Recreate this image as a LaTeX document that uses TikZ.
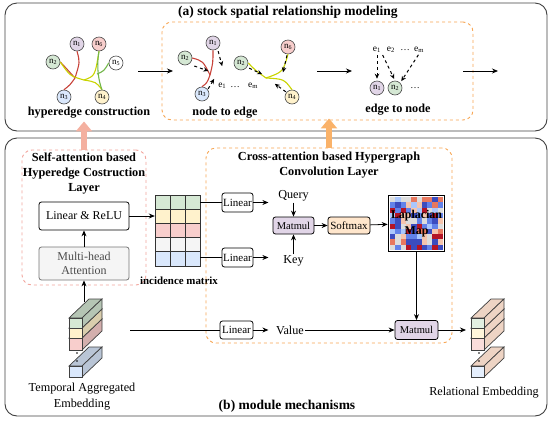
\documentclass[tikz,border=0pt]{standalone}
\usepackage{fontspec}
\setmainfont{Liberation Serif}
\usetikzlibrary{positioning, arrows.meta}

\definecolor{cgreen}{HTML}{D5E8D4}
\definecolor{cyellow}{HTML}{FFF2CC}
\definecolor{cred}{HTML}{F8CECC}
\definecolor{cgray}{HTML}{F5F5F5}
\definecolor{cblue}{HTML}{DAE8FC}
\definecolor{cpurple}{HTML}{E1D5E7}
\definecolor{corange}{HTML}{FFE6CC}
\definecolor{peach}{RGB}{238,212,196}
\definecolor{dashorange}{HTML}{F7A552}
\definecolor{dashpink}{HTML}{F2A49C}
\definecolor{pinkarrow}{RGB}{244,176,160}
\definecolor{orangearrow}{RGB}{250,178,105}
\definecolor{linered}{HTML}{C8433A}
\definecolor{lineyellow}{HTML}{C9D400}
\definecolor{linegreen}{HTML}{72B64A}
% coolwarm colours of the Laplacian map
\definecolor{hm0}{RGB}{59,76,192}
\definecolor{hm1}{RGB}{98,130,234}
\definecolor{hm2}{RGB}{170,199,253}
\definecolor{hm3}{RGB}{221,221,221}
\definecolor{hm4}{RGB}{245,196,173}
\definecolor{hm5}{RGB}{232,120,95}
\definecolor{hm6}{RGB}{180,20,38}

% one embedding cube: x, y (front top left), height, front fill, side fill
\newcommand{\embcube}[5]{%
  \filldraw[draw=black!75, line width=0.7pt, fill=#5] (#1,#2) -- ++(20,-19) -- ++(13,0) -- ++(-20,19) -- cycle;
  \filldraw[draw=black!75, line width=0.7pt, fill=#5] (#1+13,#2) -- ++(20,-19) -- ++(0,#3) -- ++(-20,19) -- cycle;
  \filldraw[draw=black!75, line width=0.7pt, fill=#4] (#1,#2) rectangle ++(13,#3);
}

\begin{document}
\begin{tikzpicture}[x=1pt, y=-1pt,
  panel/.style={draw=black!75, line width=0.9pt, rounded corners=12pt, inner sep=0pt},
  layerbox/.style={dashed, line width=0.9pt, rounded corners=10pt, inner sep=0pt},
  heading/.style={font=\fontsize{12.3}{15}\selectfont\bfseries, align=center},
  bigtitle/.style={font=\fontsize{13.5}{15}\selectfont\bfseries},
  subcap/.style={font=\fontsize{12.2}{14}\selectfont\bfseries},
  txt/.style={font=\fontsize{12.2}{14}\selectfont, inner sep=1pt},
  elabel/.style={font=\fontsize{9.5}{10}\selectfont, inner sep=1pt},
  stock/.style={circle, draw=black!70, line width=0.6pt, minimum size=14pt, inner sep=0pt, font=\fontsize{9}{9}\selectfont},
  opbox/.style={draw, line width=0.8pt, rounded corners=2.5pt, inner sep=0pt, font=\fontsize{11}{12}\selectfont},
  arrow/.style={-{Stealth[length=6pt, width=5pt]}, line width=0.8pt},
  flow/.style={-{Stealth[length=5pt, width=4.5pt]}, dashed, line width=1pt},
  hedge/.style={line width=1.1pt},
  bigarrow/.style={line width=6.5pt, -{Triangle[length=10pt, width=16pt]}}
]
\useasboundingbox (0,0) rectangle (550,421);

% the two panels
\node[panel, minimum width=542pt, minimum height=128pt] (panela) at (276,67) {};
\node[panel, minimum width=542pt, minimum height=278pt] (panelb) at (276,277) {};
\node[bigtitle] (titlea) at (288,12) {(a) stock spatial relationship modeling};
\node[bigtitle] (titleb) at (287,406) {(b) module mechanisms};

% hyperedge construction
\node[stock, fill=cpurple] (h1) at (77,44) {n\textsubscript{1}};
\node[stock, fill=cred] (h6) at (99,44) {n\textsubscript{6}};
\node[stock, fill=white] (h5) at (116,63) {n\textsubscript{5}};
\node[stock, fill=cgreen] (h2) at (53,62) {n\textsubscript{2}};
\node[stock, fill=cblue] (h3) at (64,97) {n\textsubscript{3}};
\node[stock, fill=cyellow] (h4) at (102,97) {n\textsubscript{4}};
\coordinate (rj) at (75,78);
\coordinate (yj) at (84,80);
\coordinate (gj) at (97,74);
\draw[hedge, linered] (h1.south) .. controls (80,62) .. (rj) .. controls (70,85) .. (h3.north);
\draw[hedge, linered] (h2.east) .. controls (65,67) .. (rj);
\draw[hedge, lineyellow] (h2.east) .. controls (70,76) .. (yj);
\draw[hedge, lineyellow] (yj) .. controls (95,76) .. (h6.south);
\draw[hedge, lineyellow] (yj) .. controls (96,82) .. (h4.north);
\draw[hedge, linegreen] (h5.west) .. controls (104,71) .. (gj);
\draw[hedge, linegreen] (h6.south) .. controls (96,68) and (99,82) .. (h4.north);
\node[subcap] (hcap) at (89,113) {hyperedge construction};

\coordinate (a1s) at (138,71);
\coordinate (a1e) at (173,71);
\draw[arrow] (a1s) -- (a1e);

% node to edge / edge to node
\node[layerbox, draw=dashorange, minimum width=311pt, minimum height=98pt] (mpbox) at (317.5,71) {};

\node[stock, fill=cpurple] (p1) at (213,43) {n\textsubscript{1}};
\node[stock, fill=cgreen] (p2) at (185,58) {n\textsubscript{2}};
\node[stock, fill=cblue] (p3) at (202,94) {n\textsubscript{3}};
\coordinate (pj) at (210,75);
\draw[hedge, linered] (p1.south) .. controls (213,63) .. (pj) .. controls (207,83) .. (p3.north);
\draw[hedge, linered] (p2.east) .. controls (203,61) .. (pj);
\draw[flow] ([shift={(0,3)}]p1.south east) -- ++(4,15);
\draw[flow] ([shift={(2,8)}]p2.east) -- ++(14,5);
\draw[flow] ([shift={(1,0)}]p3.north east) -- ++(6,-10);
\node[elabel] (pe1) at (229,86) {e\textsubscript{1} \,\dots};
\node[elabel] (pem) at (253,86) {e\textsubscript{m}};

\node[stock, fill=cgreen] (q2) at (241,63) {n\textsubscript{2}};
\node[stock, fill=cred] (q6) at (288,47) {n\textsubscript{6}};
\node[stock, fill=cyellow] (q4) at (292,97) {n\textsubscript{4}};
\coordinate (qj) at (266,78);
\draw[hedge, lineyellow] (q2.east) .. controls (255,70) .. (qj);
\draw[hedge, lineyellow] (q6.south) .. controls (283,72) .. (qj);
\draw[hedge, lineyellow] (qj) .. controls (284,79) .. (q4.north);
\draw[flow] ([shift={(3,0)}]q2.south east) -- ++(13,6);
\draw[flow] ([shift={(-1,1)}]q6.south) -- ++(-4,17);
\draw[flow] ([shift={(-1,0)}]q4.north west) -- ++(-11,-8);
\node[subcap] (ncap) at (225,113) {node to edge};

\coordinate (a2s) at (317,71);
\coordinate (a2e) at (352,71);
\draw[arrow] (a2s) -- (a2e);

\node[elabel] (f1) at (377,50) {e\textsubscript{1}};
\node[elabel] (f2) at (391,50) {e\textsubscript{2}};
\node[elabel] (fdots) at (405,50) {\dots};
\node[elabel] (fm) at (419,50) {e\textsubscript{m}};
\node[stock, fill=cpurple] (g1) at (377,88) {n\textsubscript{1}};
\node[stock, fill=cgreen] (g2) at (395,88) {n\textsubscript{2}};
\node[elabel] (gdots) at (415,88) {\dots};
\draw[flow, shorten <=1pt, shorten >=2pt] (f1.south) -- (g1.north);
\draw[flow, shorten <=1pt, shorten >=2pt] (f1.south east) -- (g2.north);
\draw[flow, shorten <=1pt, shorten >=2pt] (fm.south) -- (g2.north east);
\node[subcap] (ecap) at (398,110) {edge to node};

\coordinate (a3s) at (463,71);
\coordinate (a3e) at (498,71);
\draw[arrow] (a3s) -- (a3e);

% self-attention hyperedge layer
\node[layerbox, draw=dashpink, minimum width=124pt, minimum height=135pt] (salayer) at (84,217.5) {};
\node[heading] (satitle) at (84,173) {Self-attention based\\Hyperedge Costruction\\Layer};
\node[opbox, minimum width=90pt, minimum height=28pt, font=\fontsize{12}{13}\selectfont] (relu) at (84,216) {Linear \& ReLU};
\node[opbox, draw=black!55, fill=cgray, text=black!70, minimum width=90pt, minimum height=33pt, align=center, font=\fontsize{12}{14}\selectfont] (mha) at (84,263.5) {Multi-head\\Attention};
\draw[arrow] (mha) -- (relu);

% incidence matrix
\foreach \c [count=\row from 0] in {cgreen,cyellow,cred,cgray,cblue}
  \foreach \k in {0,1,2}
    \filldraw[fill=\c, draw=black!80, line width=0.7pt] (155+\k*15, 195+\row*14.2) rectangle ++(15,14.2);
\node[inner sep=0pt, minimum width=45pt, minimum height=71pt] (inc) at (177.5,230.5) {};
\node[font=\fontsize{10.9}{12}\selectfont\bfseries] (inccap) at (179,281) {incidence matrix};
\draw[arrow] (relu.east) -- (relu.east -| inc.west);

% cross-attention hypergraph convolution layer
\node[layerbox, draw=dashorange, minimum width=246pt, minimum height=195pt] (calayer) at (329,245.5) {};
\node[heading] (catitle) at (329,165.5) {Cross-attention based Hypergraph\\Convolution Layer};

\node[opbox, minimum width=31pt, minimum height=19pt] (lin1) at (237.5,202.5) {Linear};
\node[opbox, minimum width=31pt, minimum height=19pt] (lin2) at (237.5,257.5) {Linear};
\draw[line width=0.8pt] (inc.east |- lin1.west) -- (lin1.west);
\draw[line width=0.8pt] (inc.east |- lin2.west) -- (lin2.west);
\coordinate[right=15pt of lin1.east] (qin);
\coordinate[right=15pt of lin2.east] (kin);
\draw[arrow] (lin1.east) -- (qin);
\draw[arrow] (lin2.east) -- (kin);

\node[txt] (query) at (293.5,196) {Query};
\node[txt] (key) at (293.5,261) {Key};
\node[opbox, fill=cpurple, minimum width=41pt, minimum height=17pt, font=\fontsize{10.5}{12}\selectfont] (mm1) at (293.5,225.5) {Matmul};
\node[opbox, fill=corange, minimum width=42pt, minimum height=17pt] (soft) at (349,225.5) {Softmax};
\draw[arrow] (query) -- (mm1);
\draw[arrow] (key) -- (mm1);
\draw[arrow] (mm1) -- (soft);

% Laplacian map
\pgfmathsetseed{11}
\foreach \i in {0,...,9}
  \foreach \j in {0,...,9} {
    \pgfmathrandominteger{\hmidx}{0}{6}
    \fill[hm\hmidx] (390+\i*5.3, 197+\j*5.3) rectangle ++(5.3,5.3);
  }
\node[draw, line width=1.6pt, minimum width=56pt, minimum height=56pt, inner sep=0pt, align=center, font=\fontsize{11.9}{16}\selectfont\bfseries] (lap) at (416.5,223.5) {Laplacian\\Map};
\draw[arrow] (soft) -- (lap);

% value path
\coordinate (tin) at (130,330);
\node[opbox, minimum width=33pt, minimum height=18pt] (lin3) at (236.5,330) {Linear};
\draw[line width=0.8pt] (tin) -- (lin3);
\coordinate[right=15pt of lin3.east] (vin);
\draw[arrow] (lin3.east) -- (vin);
\node[txt] (value) at (290,330) {Value};
\node[opbox, fill=cpurple, minimum width=43pt, minimum height=19pt, font=\fontsize{10.5}{12}\selectfont] (mm2) at (416.5,330) {Matmul};
\draw[arrow] (value) -- (mm2);
\draw[arrow] (lap) -- (mm2);
\coordinate (rin) at (466,330);
\draw[arrow] (mm2) -- (rin);

% temporal aggregated embedding
\embcube{69}{338}{12}{cred}{cred!85!black}
\embcube{69}{328}{10}{cyellow}{cyellow!85!black}
\embcube{69}{318}{10}{cgreen}{cgreen!85!black}
\embcube{69}{366}{11}{cblue}{cblue!85!black}
\fill (77,353) circle (0.8);
\fill (77,361) circle (0.8);
\coordinate (tout) at (84,302);
\draw[arrow] (tout) -- (mha);
\node[txt, align=center, font=\fontsize{12.2}{16}\selectfont] (tcap) at (82,397) {Temporal Aggregated\\Embedding};

% relational embedding
\embcube{471}{338}{12}{cred!70!white}{peach}
\embcube{471}{328}{10}{cyellow!70!white}{peach}
\embcube{471}{318}{10}{cgreen!70!white}{peach}
\embcube{471}{366}{11}{cblue!70!white}{peach}
\fill (479,353) circle (0.8);
\fill (479,361) circle (0.8);
\node[txt] (rcap) at (484,393) {Relational Embedding};

% links between the panels
\draw[bigarrow, pinkarrow] (salayer.north) -- ([yshift=10pt]salayer.north |- panela.south);
\draw[bigarrow, orangearrow] (calayer.north) -- ([yshift=13pt]calayer.north |- panela.south);

\end{tikzpicture}
\end{document}
